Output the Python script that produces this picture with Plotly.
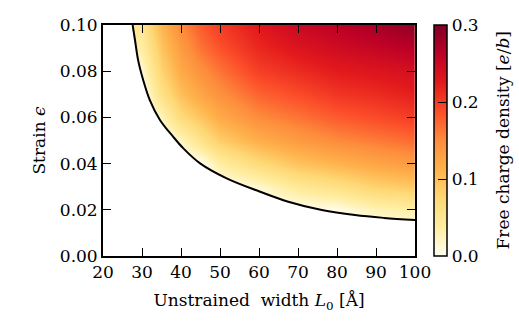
import numpy as np
import plotly.graph_objects as go

# ---- data ----
heat_L = [25, 30, 35, 40, 45, 50, 60, 70, 80, 90, 100]
heat_eps = [0.0, 0.01, 0.02, 0.03, 0.04, 0.05, 0.06, 0.07, 0.08, 0.09, 0.10]

col_L25 = [None] * 11
col_L30 = [0, 0, 0, 0, 0, 0, 0, 0, 0.015, 0.035, 0.05]
col_L35 = [0, 0, 0, 0, 0, 0, 0.025, 0.06, 0.08, 0.095, 0.11]
col_L40 = [0, 0, 0, 0, 0, 0.02, 0.07, 0.10, 0.12, 0.135, 0.15]
col_L45 = [0, 0, 0, 0, 0, 0.055, 0.095, 0.125, 0.145, 0.165, 0.18]
col_L50 = [0, 0, 0, 0, 0.035, 0.085, 0.12, 0.145, 0.165, 0.185, 0.20]
col_L60 = [0, 0, 0, 0.015, 0.07, 0.115, 0.15, 0.175, 0.198, 0.215, 0.228]
col_L70 = [0, 0, 0, 0.045, 0.095, 0.135, 0.165, 0.19, 0.212, 0.232, 0.25]
col_L80 = [0, 0, 0.005, 0.06, 0.11, 0.15, 0.18, 0.205, 0.225, 0.245, 0.262]
col_L90 = [0, 0, 0.025, 0.08, 0.125, 0.16, 0.19, 0.212, 0.232, 0.255, 0.275]
col_L100 = [0, 0, 0.035, 0.09, 0.135, 0.17, 0.20, 0.222, 0.24, 0.265, 0.29]

# critical boundary curve
curve_L = [27.6, 28.2, 29.0, 30.3, 32.0, 34.6, 38.0, 40.6, 44.9, 51.7, 60.3,
           67.5, 76.1, 84.6, 92.0, 100.0]
curve_eps = [0.100, 0.0935, 0.0848, 0.0762, 0.0675, 0.0589, 0.0516, 0.0466,
             0.0401, 0.0336, 0.0278, 0.0235, 0.0199, 0.0177, 0.0165, 0.0156]

x_ticks = [20, 30, 40, 50, 60, 70, 80, 90, 100]
y_ticks = [0.00, 0.02, 0.04, 0.06, 0.08, 0.10]
cb_ticks = [0.0, 0.1, 0.2, 0.3]

# ---- build ----
cols = [col_L25, col_L30, col_L35, col_L40, col_L45, col_L50, col_L60,
        col_L70, col_L80, col_L90, col_L100]
z = [[cols[j][i] for j in range(len(cols))] for i in range(len(heat_eps))]

ylorrd = ["#fffff2", "#ffeda0", "#fed976", "#feb24c", "#fd8d3c",
          "#fc4e2a", "#e31a1c", "#bd0026", "#800026"]
cscale = [[i / 8, c] for i, c in enumerate(ylorrd)]

FONT = "DejaVu Serif"
FS = 17
tf = dict(family=FONT, size=FS, color="black")

fig = go.Figure()
fig.add_trace(go.Heatmap(
    x=heat_L, y=heat_eps, z=z, zmin=0, zmax=0.3, zsmooth="best",
    colorscale=cscale, showscale=True,
    colorbar=dict(
        x=1.061, xanchor="left", xref="paper", y=0.5, yanchor="middle",
        len=1, lenmode="fraction", thickness=13, xpad=0, ypad=0,
        outlinewidth=1.5, outlinecolor="black",
        tickvals=cb_ticks, tickformat=".1f", ticks="inside", ticklen=9,
        tickcolor="black", tickwidth=1, tickfont=tf,
    ),
    hoverinfo="skip",
))
# white mask below / left of boundary
for f in ("tozeroy", "tozerox"):
    fig.add_trace(go.Scatter(x=curve_L, y=curve_eps, mode="lines",
                             line=dict(width=0, color="white", shape="spline"),
                             fill=f, fillcolor="white", hoverinfo="skip",
                             showlegend=False))
fig.add_trace(go.Scatter(x=curve_L, y=curve_eps, mode="lines",
                         line=dict(width=2, color="black", shape="spline"),
                         showlegend=False, hoverinfo="skip"))

axis_common = dict(showline=True, linewidth=1.8, linecolor="black", mirror="ticks",
                   ticks="inside", ticklen=8, tickwidth=1, tickcolor="black",
                   showgrid=False, zeroline=False, tickfont=tf)
fig.update_xaxes(range=[20, 100], tickvals=x_ticks, **axis_common,
                 title=dict(text="Unstrained  width <i>L</i><sub>0</sub> [Å]",
                            font=tf, standoff=13))
fig.update_yaxes(range=[0, 0.1], tickvals=y_ticks, tickformat=".2f", **axis_common,
                 title=dict(text="Strain <i>ϵ</i>", font=tf, standoff=10))
fig.add_annotation(text="Free charge density [<i>e</i>/<i>b</i>]",
                   xref="paper", yref="paper", x=1.282, y=0.5,
                   xanchor="center", yanchor="middle", textangle=-90,
                   showarrow=False, font=tf)
fig.update_layout(width=519, height=321,
                  margin=dict(l=103, r=104, t=25, b=65, pad=0, autoexpand=False),
                  plot_bgcolor="white", paper_bgcolor="white", showlegend=False)
fig.write_html("out.html")
